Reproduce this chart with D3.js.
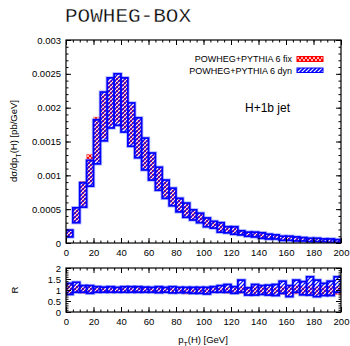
<!DOCTYPE html>
<html><head><meta charset="utf-8">
<script src="https://cdn.jsdelivr.net/npm/d3@7"></script>
<style>body{margin:0;background:#fff}svg{display:block}text{font-family:"Liberation Sans",Arial,sans-serif;fill:#000}</style>
</head><body><div id="chart"></div>
<script>
const binEdges = d3.range(0, 200, 5); // lower edges, width 5 GeV
const binWidth = 5;
const fixHi = [0.00020,0.00050,0.00091,0.00131,0.00186,0.00220,0.00240,0.00246,0.00245,0.00203,0.00182,0.00152,0.00130,0.00110,0.00091,0.00079,0.00065,0.00058,0.00048,0.00043,0.00036,0.00031,0.00029,0.00023,0.00023,0.00018,0.00016,0.00015,0.00016,0.00012,0.00011,0.00010,0.00009,0.00009,0.00008,0.00007,0.00006,0.00006,0.00005,0.00005];
const fixLo = [0.00010,0.00032,0.00055,0.00088,0.00121,0.00155,0.00174,0.00178,0.00168,0.00146,0.00129,0.00110,0.00095,0.00080,0.00068,0.00057,0.00047,0.00040,0.00035,0.00031,0.00025,0.00023,0.00017,0.00016,0.00014,0.00012,0.00011,0.00010,0.00008,0.00007,0.00006,0.00005,0.00004,0.00004,0.00003,0.00003,0.00002,0.00002,0.00002,0.00001];
const dynHi = [0.00019,0.00052,0.00089,0.00122,0.00182,0.00223,0.00244,0.00250,0.00244,0.00207,0.00185,0.00155,0.00133,0.00112,0.00093,0.00081,0.00066,0.00059,0.00049,0.00044,0.00037,0.00032,0.00030,0.00024,0.00024,0.00018,0.00016,0.00016,0.00015,0.00013,0.00012,0.00010,0.00010,0.00009,0.00008,0.00007,0.00007,0.00006,0.00006,0.00005];
const dynLo = [0.00009,0.00030,0.00053,0.00084,0.00117,0.00151,0.00170,0.00174,0.00164,0.00143,0.00126,0.00108,0.00093,0.00078,0.00066,0.00055,0.00046,0.00038,0.00034,0.00030,0.00024,0.00022,0.00016,0.00015,0.00013,0.00012,0.00010,0.00009,0.00007,0.00006,0.00006,0.00004,0.00004,0.00003,0.00003,0.00002,0.00002,0.00002,0.00001,0.00001];
const rFixHi = [1.3,1.2,1.15,1.2,1.18,1.12,1.12,1.12,1.15,1.12,1.12,1.12,1.1,1.12,1.1,1.1,1.12,1.1,1.12,1.1,1.1,1.12,1.1,1.12,1.12,1.15,1.12,1.15,1.15,1.12,1.12,1.15,1.2,1.2,1.15,1.2,1.15,1.15,1.2,1.15];
const rFixLo = [0.8,0.88,0.85,0.85,0.88,0.9,0.88,0.9,0.88,0.9,0.88,0.9,0.88,0.9,0.88,0.85,0.88,0.82,0.88,0.88,0.85,0.88,0.88,0.85,0.88,0.85,0.85,0.82,0.85,0.8,0.85,0.8,0.78,0.82,0.8,0.8,0.78,0.8,0.78,0.8];
const rDynHi = [1.3,1.35,1.2,1.2,1.15,1.13,1.15,1.12,1.15,1.15,1.15,1.13,1.12,1.15,1.12,1.15,1.12,1.12,1.12,1.12,1.12,1.15,1.2,1.25,1.15,1.45,1.1,1.25,1.2,1.22,1.25,1.4,1.2,1.45,1.38,1.6,1.45,1.3,1.4,1.6];
const rDynLo = [0.8,0.9,0.9,0.85,0.9,0.9,0.9,0.9,0.9,0.9,0.9,0.9,0.9,0.88,0.9,0.87,0.88,0.88,0.85,0.85,0.82,0.9,0.9,0.9,0.85,0.9,0.77,0.77,0.8,0.77,0.75,0.85,0.7,0.9,0.78,0.77,0.7,0.75,0.75,0.9];
const xTicks = [0,20,40,60,80,100,120,140,160,180,200];
const yTicks = [0,0.0005,0.001,0.0015,0.002,0.0025,0.003];
const yTickLabels = ["0","0.0005","0.001","0.0015","0.002","0.0025","0.003"];
const rTicks = [0,0.5,1,1.5,2];
const rTickLabels = ["0","0.5","1","1.5","2"];
const seriesNames = ["POWHEG+PYTHIA 6 fix","POWHEG+PYTHIA 6 dyn"];

const W = 350, H = 346;
const svg = d3.select("#chart").append("svg").attr("width", W).attr("height", H);
const defs = svg.append("defs");
const pr = defs.append("pattern").attr("id","pFix").attr("patternUnits","userSpaceOnUse").attr("width",4).attr("height",4);
pr.append("rect").attr("width",4).attr("height",4).attr("fill","#ff0000");
pr.append("path").attr("d","M0,0L4,4M4,0L0,4").attr("stroke","#fff").attr("stroke-width",0.7);
const pb = defs.append("pattern").attr("id","pDyn").attr("patternUnits","userSpaceOnUse").attr("width",4).attr("height",4);
pb.append("path").attr("d","M-1,5L5,-1M-1,1L1,-1M3,5L5,3").attr("stroke","#0000ff").attr("stroke-width",1.1);
pb.append("path").attr("d","M1,5L5,1M-1,3L3,-1").attr("stroke","#ffffff").attr("stroke-width",0.9);
const pbl = defs.append("pattern").attr("id","pDynLeg").attr("patternUnits","userSpaceOnUse").attr("width",4).attr("height",4);
pbl.append("rect").attr("width",4).attr("height",4).attr("fill","#fff");
pbl.append("path").attr("d","M-1,5L5,-1M-1,1L1,-1M3,5L5,3").attr("stroke","#0000ff").attr("stroke-width",1.6);

const L = 66, R = 341, T = 40, B = 243, RT = 268, RB = 312;
const x = d3.scaleLinear().domain([0,200]).range([L,R]);
const y = d3.scaleLinear().domain([0,0.003]).range([B,T]);
const yr = d3.scaleLinear().domain([0,2]).range([RB,RT]);

defs.append("clipPath").attr("id","cMain").append("rect").attr("x",L).attr("y",T).attr("width",R-L).attr("height",B-T);
defs.append("clipPath").attr("id","cRat").append("rect").attr("x",L).attr("y",RT).attr("width",R-L).attr("height",RB-RT);

function drawBands(g, sc, lo1, hi1, lo2, hi2){
  const idx = d3.range(binEdges.length);
  g.selectAll(".fx").data(idx).join("rect")
    .attr("x", i => x(binEdges[i])).attr("width", i => x(binEdges[i]+binWidth)-x(binEdges[i]))
    .attr("y", i => sc(hi1[i])).attr("height", i => sc(lo1[i])-sc(hi1[i]))
    .attr("fill","url(#pFix)").attr("stroke","#ff6060").attr("stroke-width",1).attr("stroke-opacity",0.5);
  g.selectAll(".dh").data(idx).join("rect")
    .attr("x", i => x(binEdges[i])).attr("width", i => x(binEdges[i]+binWidth)-x(binEdges[i]))
    .attr("y", i => sc(hi2[i])).attr("height", i => sc(lo2[i])-sc(hi2[i]))
    .attr("fill","none").attr("stroke","#5060ff").attr("stroke-opacity",0.45).attr("stroke-width",3.4);
  g.selectAll(".dy").data(idx).join("rect")
    .attr("x", i => x(binEdges[i])).attr("width", i => x(binEdges[i]+binWidth)-x(binEdges[i]))
    .attr("y", i => sc(hi2[i])).attr("height", i => sc(lo2[i])-sc(hi2[i]))
    .attr("fill","url(#pDyn)").attr("stroke","#0000ff").attr("stroke-width",1.7);
}
drawBands(svg.append("g").attr("clip-path","url(#cMain)"), y, fixLo, fixHi, dynLo, dynHi);
drawBands(svg.append("g").attr("clip-path","url(#cRat)"), yr, rFixLo, rFixHi, rDynLo, rDynHi);

function axes(top, bottom, ys, majors, labels, minors){
  const minorX = d3.range(0,201,5);
  svg.append("g").attr("transform",`translate(0,${bottom})`)
    .call(d3.axisBottom(x).tickValues(xTicks).tickSize(-5).tickSizeOuter(0).tickPadding(6).tickFormat(d3.format("d")));
  svg.append("g").attr("transform",`translate(0,${bottom})`).call(d3.axisBottom(x).tickValues(minorX).tickSize(-2.5).tickSizeOuter(0).tickFormat(""));
  svg.append("g").attr("transform",`translate(0,${top})`).call(d3.axisTop(x).tickValues(xTicks).tickSize(-5).tickSizeOuter(0).tickFormat(""));
  svg.append("g").attr("transform",`translate(0,${top})`).call(d3.axisTop(x).tickValues(minorX).tickSize(-2.5).tickSizeOuter(0).tickFormat(""));
  svg.append("g").attr("transform",`translate(${L},0)`).call(d3.axisLeft(ys).tickValues(majors).tickSize(-5).tickSizeOuter(0).tickPadding(5).tickFormat((d,i)=>labels[i]));
  svg.append("g").attr("transform",`translate(${L},0)`).call(d3.axisLeft(ys).tickValues(minors).tickSize(-2.5).tickSizeOuter(0).tickFormat(""));
  svg.append("g").attr("transform",`translate(${R},0)`).call(d3.axisRight(ys).tickValues(majors).tickSize(-5).tickSizeOuter(0).tickFormat(""));
  svg.append("g").attr("transform",`translate(${R},0)`).call(d3.axisRight(ys).tickValues(minors).tickSize(-2.5).tickSizeOuter(0).tickFormat(""));
  svg.append("rect").attr("x",L).attr("y",top).attr("width",R-L).attr("height",bottom-top).attr("fill","none").attr("stroke","#000").attr("stroke-width",1.2);
}
axes(T, B, y, yTicks, yTickLabels, d3.range(0,0.00301,0.0001));
axes(RT, RB, yr, rTicks, rTickLabels, d3.range(0,2.01,0.1));
svg.selectAll(".domain").attr("stroke","none");
svg.selectAll(".tick line").attr("stroke","#000");
svg.selectAll(".tick text").style("font-size","9.5px").style("font-family","'Liberation Sans',Arial,sans-serif");

svg.append("text").attr("x",65).attr("y",22).style("font-family","'Liberation Mono','Courier New',monospace").style("font-size","21px")
  .attr("stroke","#fff").attr("stroke-width",0.3).text("POWHEG-BOX");
const yt = svg.append("text").attr("transform","translate(17,141) rotate(-90)").attr("text-anchor","middle").style("font-size","9.5px");
yt.append("tspan").text("dσ/dp");
yt.append("tspan").attr("baseline-shift","sub").style("font-size","7px").text("T");
yt.append("tspan").text("(H) [pb/GeV]");
svg.append("text").attr("transform","translate(18,290) rotate(-90)").attr("text-anchor","middle").style("font-size","9.5px").text("R");
const xt = svg.append("text").attr("x",203).attr("y",343).attr("text-anchor","middle").style("font-size","9.5px");
xt.append("tspan").text("p");
xt.append("tspan").attr("baseline-shift","sub").style("font-size","7px").text("T");
xt.append("tspan").text("(H) [GeV]");
svg.append("text").attr("x",292).attr("y",62).attr("text-anchor","end").style("font-size","9px").text(seriesNames[0]);
svg.append("text").attr("x",292).attr("y",73.5).attr("text-anchor","end").style("font-size","9px").text(seriesNames[1]);
svg.append("rect").attr("x",297).attr("y",56.5).attr("width",26).attr("height",5).attr("fill","url(#pFix)").attr("stroke","#ff0000").attr("stroke-width",1);
svg.append("rect").attr("x",297).attr("y",68).attr("width",26).attr("height",4.5).attr("fill","url(#pDynLeg)").attr("stroke","#0000ff").attr("stroke-width",1);
svg.append("text").attr("x",245).attr("y",112).style("font-size","12px").text("H+1b jet");
</script></body></html>
